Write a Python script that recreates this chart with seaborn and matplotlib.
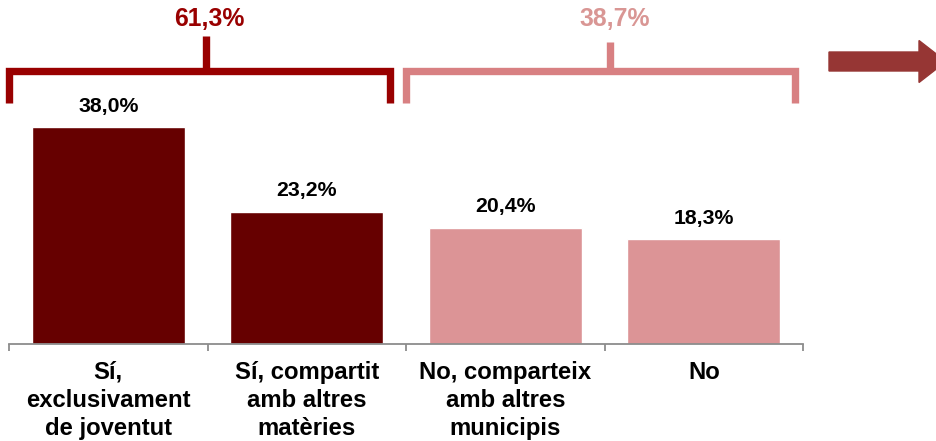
import matplotlib
matplotlib.use("Agg")
import matplotlib.pyplot as plt
from matplotlib.patches import FancyArrow
import pandas as pd
import seaborn as sns

# values
categories = ["Sí,\nexclusivament\nde joventut", "Sí, compartit\namb altres\nmatèries",
              "No, comparteix\namb altres\nmunicipis", "No"]
shares = [38.0, 23.2, 20.4, 18.3]
group_totals = [61.3, 38.7]
group_labels = ["61,3%", "38,7%"]

DARK = "#660000"
PINK = "#DC9496"
BRACKET_DARK = "#990000"
BRACKET_PINK = "#D88082"
TEXT_PINK = "#D99694"
ARROW = "#963634"

sns.set_theme(style="white")
plt.rcParams["font.family"] = ["Liberation Sans", "DejaVu Sans"]

W, H = 936, 441
fig = plt.figure(figsize=(W / 100, H / 100), dpi=100)
# axes spans from x=9px to 803px, baseline at y=344px from top
ax = fig.add_axes([9 / W, (H - 344) / H, 794 / W, 344 / H])

df = pd.DataFrame({"cat": categories, "share": shares})
sns.barplot(data=df, x="cat", y="share", hue="cat", palette=[DARK, DARK, PINK, PINK],
            width=0.77, saturation=1, legend=False, ax=ax)

px_per_unit = 217 / 38.0
ax.set_xlim(-0.5, 3.5)
ax.set_ylim(0, 344 / px_per_unit)

def ypx(p):
    # pixel row from top of figure -> data y
    return (344 - p) / px_per_unit

# value labels
for i, v in enumerate(shares):
    ax.annotate(f"{v:.1f}%".replace(".", ","), (i, v), xytext=(0, 8), textcoords="offset points",
                ha="center", va="bottom", fontsize=15.3, fontweight="bold", color="black")

# brackets over the two groups
brackets = [(-0.5, 1.42, 0.49, 36, BRACKET_DARK, BRACKET_DARK),
            (1.50, 3.46, 2.53, 42, BRACKET_PINK, TEXT_PINK)]
for (x0, x1, xs, stem_top, col, tcol), lab in zip(brackets, group_labels):
    ax.plot([x0, x0, x1, x1], [ypx(103), ypx(71), ypx(71), ypx(103)], color=col, lw=5.3,
            solid_joinstyle="miter", solid_capstyle="butt", clip_on=False)
    ax.plot([xs, xs], [ypx(71), ypx(stem_top)], color=col, lw=5.3,
            solid_capstyle="butt", clip_on=False)
    ax.text(xs + 0.02, ypx(19), lab, ha="center", va="center", fontsize=17.8,
            fontweight="bold", color=tcol, clip_on=False)

# arrow on the right edge
fig.add_artist(FancyArrow(829 / W, 1 - 61.5 / H, 90 / W, 0, width=19 / H, head_width=42 / H,
                          head_length=27 / W, length_includes_head=False,
                          color=ARROW, transform=fig.transFigure))

# axis styling
for s in ["top", "right", "left"]:
    ax.spines[s].set_visible(False)
ax.spines["bottom"].set_color("#8C8C8C")
ax.spines["bottom"].set_linewidth(1.3)
ax.set_yticks([])
ax.set_xlabel("")
ax.set_ylabel("")
ax.set_xticks([-0.5, 0.5, 1.5, 2.5, 3.5], minor=True)
ax.tick_params(axis="x", which="minor", bottom=True, length=5, width=1.3,
               color="#8C8C8C", direction="out")
ax.tick_params(axis="x", which="major", length=0, pad=12, labelcolor="black")
for t in ax.get_xticklabels():
    t.set_fontsize(17.2)
    t.set_fontweight("bold")
    t.set_linespacing(1.28)
    t.set_verticalalignment("top")

fig.savefig("out.png", dpi=100)
